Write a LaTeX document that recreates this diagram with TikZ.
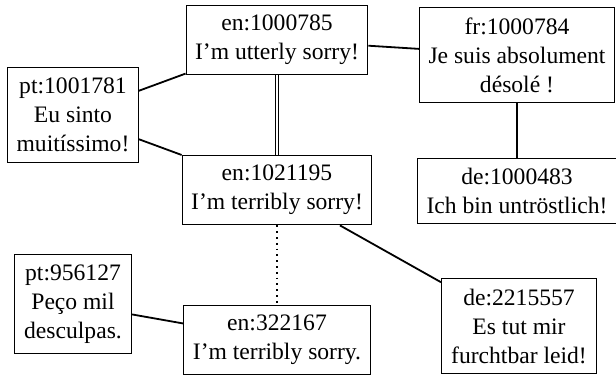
\documentclass[tikz,border=0pt]{standalone}
\usepackage{fontspec}
\setmainfont{Liberation Serif}
\usepackage{tikz}
\usetikzlibrary{shapes.geometric, arrows}
\tikzstyle{entry} = [rectangle, draw=black, line width=0.5pt, align=center, inner xsep=4.5pt, inner ysep=5pt, font=\fontsize{11.8pt}{14.5pt}\selectfont]
\tikzstyle{link} = [line width=0.9pt]
\tikzstyle{same} = [double, double distance=1pt, line width=0.45pt]
\tikzstyle{near} = [line width=0.9pt, dotted]

\begin{document}
\begin{tikzpicture}[node distance=75pt]
\useasboundingbox (0,0) rectangle (308pt,-188pt);

\node (en1) [entry] at (138.5pt,-20pt) {en:1000785\\I'm utterly sorry!};

\node (en2) [entry, below of=en1] {en:1021195\\I'm terribly sorry!};

\node (en3) [entry, below of=en2] {en:322167\\I'm terribly sorry.};

\node (fr1) [entry, right of=en1, xshift=45pt, yshift=-7.5pt] {fr:1000784\\Je suis absolument\\désolé !};
\node (de1) [entry, below of=fr1, yshift=7pt] {de:1000483\\Ich bin untröstlich!};

\node (pt1) [entry, left of=en1, xshift=-27pt, yshift=-37.5pt] {pt:1001781\\Eu sinto\\muitíssimo!};
\node (pt2) [entry, left of=en3, xshift=-27pt, yshift=18pt, minimum width=58.5pt] {pt:956127\\Peço mil\\desculpas.};
\node (de2) [entry, right of=en3, xshift=46pt, yshift=7pt, minimum width=77.5pt] {de:2215557\\Es tut mir\\furchtbar leid!};

\draw [link] (en1) -- (fr1);
\draw [link] (fr1) -- (de1);
\draw [link] (pt1) -- (en1);
\draw [link] (pt1) -- (en2);
\draw [same] (en1) -- (en2);
\draw [near] (en2) -- (en3);
\draw [link] (en2) -- (de2);
\draw [link] (pt2) -- (en3);

\end{tikzpicture}
\end{document}
